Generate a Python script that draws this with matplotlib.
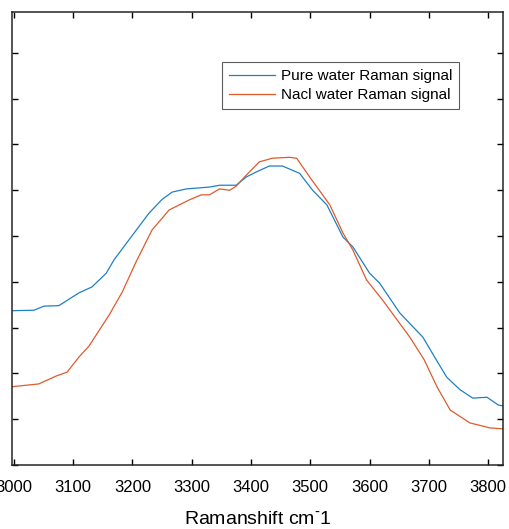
import matplotlib
matplotlib.use("Agg")
import matplotlib.pyplot as plt
import numpy as np

plt.rcParams['font.family'] = ['Liberation Sans', 'DejaVu Sans']

# Raman shift (cm^-1) and intensity (arbitrary units)
pure_x = [2997, 3034, 3051, 3076, 3110, 3132, 3156, 3169, 3195, 3228, 3250, 3267, 3291,
          3330, 3347, 3375, 3392, 3409, 3431, 3453, 3482, 3504, 3528, 3555, 3572,
          3600, 3617, 3651, 3690, 3710, 3730, 3752, 3774, 3798, 3817, 3825]
pure_y = [3.37, 3.38, 3.47, 3.48, 3.76, 3.89, 4.19, 4.48, 4.93, 5.50, 5.80, 5.96, 6.03,
          6.07, 6.11, 6.11, 6.29, 6.40, 6.53, 6.53, 6.37, 6.00, 5.68, 4.98, 4.76,
          4.19, 3.97, 3.32, 2.79, 2.35, 1.92, 1.65, 1.46, 1.48, 1.31, 1.29]

nacl_x = [2997, 3042, 3071, 3090, 3110, 3127, 3161, 3183, 3206, 3233, 3262, 3296,
          3316, 3330, 3347, 3364, 3375, 3392, 3414, 3436, 3465, 3477, 3499, 3533,
          3555, 3572, 3595, 3622, 3668, 3692, 3714, 3736, 3769, 3803, 3825]
nacl_y = [1.71, 1.77, 1.94, 2.03, 2.36, 2.60, 3.28, 3.78, 4.43, 5.13, 5.57, 5.79,
          5.90, 5.90, 6.03, 6.00, 6.09, 6.33, 6.62, 6.70, 6.72, 6.70, 6.29, 5.68,
          5.07, 4.69, 4.04, 3.60, 2.79, 2.30, 1.70, 1.20, 0.92, 0.81, 0.79]

xticks = [3000, 3100, 3200, 3300, 3400, 3500, 3600, 3700, 3800]

fig = plt.figure(figsize=(5.09, 5.29), dpi=100)
ax = fig.add_axes([0.0236, 0.121, 0.9646, 0.856])

ax.plot(pure_x, pure_y, color='#1f80c4', linewidth=0.9, label='Pure water Raman signal')
ax.plot(nacl_x, nacl_y, color='#e05a2b', linewidth=0.9, label='Nacl water Raman signal')

ax.set_xlim(2997, 3825)
ax.set_ylim(0, 9.89)
ax.set_xticks(xticks)
ax.set_xticklabels([str(t) for t in xticks], fontsize=12)
ax.set_yticks(np.arange(0, 10))
ax.set_yticklabels([])
ax.tick_params(direction='in', length=4, width=1, top=True, right=True, pad=10.5)
for s in ax.spines.values():
    s.set_linewidth(1.1)
    s.set_color('#262626')

ax.set_xlabel('Ramanshift cm$^{\u2010}$1', fontsize=14, labelpad=12)

leg = ax.legend(loc='upper left', bbox_to_anchor=(0.428, 0.89), borderaxespad=0,
                fontsize=11, frameon=True, fancybox=False, handlelength=3.0,
                handletextpad=0.4, borderpad=0.45, labelspacing=0.35)
leg.get_frame().set_edgecolor('#333333')
leg.get_frame().set_linewidth(0.8)

fig.savefig('out.png', dpi=100)
